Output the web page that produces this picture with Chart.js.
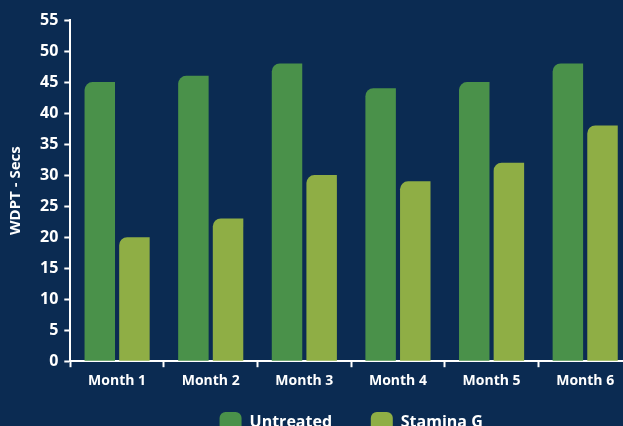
<!DOCTYPE html>
<html>
<head>
<meta charset="utf-8">
<script src="https://cdn.jsdelivr.net/npm/chart.js@4/dist/chart.umd.min.js"></script>
<style>
  html, body { margin: 0; padding: 0; background: #0b2b52; overflow: hidden; }
  #wrap { width: 632px; height: 442px; }
</style>
</head>
<body>
<div id="wrap"><canvas id="chart1"></canvas></div>
<script>
const months = ['Month 1', 'Month 2', 'Month 3', 'Month 4', 'Month 5', 'Month 6'];
const untreated = [45, 46, 48, 44, 45, 48];
const staminaG = [20, 23, 30, 29, 32, 38];

const fontFam = '"Open Sans", sans-serif';
const corner = {topLeft: 8, topRight: 0, bottomLeft: 0, bottomRight: 0};

const config = {
    type: 'bar',
    data: {
        labels: months,
        datasets: [{
            label: 'Untreated',
            backgroundColor: '#4a914a',
            borderRadius: corner,
            borderSkipped: false,
            data: untreated
        },
        {
            label: 'Stamina G',
            backgroundColor: '#8fae45',
            borderRadius: corner,
            borderSkipped: false,
            data: staminaG
        }]
    },
    options: {
        responsive: true,
        maintainAspectRatio: false,
        animation: false,
        categoryPercentage: 0.74,
        barPercentage: 0.88,
        layout: {
            padding: {top: 20, left: 7, right: 0, bottom: 0}
        },
        plugins: {
            tooltip: {enabled: false},
            legend: {
                position: 'bottom',
                fullSize: false,
                labels: {
                    color: '#ffffff',
                    boxWidth: 22,
                    boxHeight: 20,
                    padding: 18,
                    useBorderRadius: true,
                    borderRadius: 6,
                    font: {family: fontFam, size: 16, weight: 'bold'},
                    generateLabels: function(chart) {
                        const items = Chart.defaults.plugins.legend.labels.generateLabels(chart);
                        items.forEach(function(it, i) {
                            if (i < items.length - 1) it.text = it.text + '\u00a0\u00a0\u00a0\u00a0\u00a0';
                        });
                        return items;
                    }
                }
            }
        },
        scales: {
            x: {
                grid: {
                    display: true,
                    drawOnChartArea: false,
                    drawTicks: true,
                    tickLength: 6,
                    tickWidth: 2,
                    color: '#ffffff',
                    offset: true
                },
                border: {display: true, color: '#ffffff', width: 2},
                ticks: {
                    color: '#ffffff',
                    padding: 5,
                    font: {family: fontFam, size: 14, weight: 'bold'}
                }
            },
            y: {
                min: 0,
                max: 55,
                grid: {
                    display: true,
                    drawOnChartArea: false,
                    drawTicks: true,
                    tickLength: 6,
                    tickWidth: 2,
                    color: '#ffffff'
                },
                border: {display: true, color: '#ffffff', width: 2},
                ticks: {
                    stepSize: 5,
                    color: '#ffffff',
                    padding: 6,
                    font: {family: fontFam, size: 16, weight: 'bold'}
                },
                title: {
                    display: true,
                    text: 'WDPT - Secs',
                    color: '#ffffff',
                    padding: {top: 0, bottom: 9},
                    font: {family: fontFam, size: 15, weight: 'bold'}
                }
            }
        }
    }
};

const ctx1 = document.getElementById('chart1').getContext('2d');
const chart1 = new Chart(ctx1, config);
</script>
</body>
</html>
